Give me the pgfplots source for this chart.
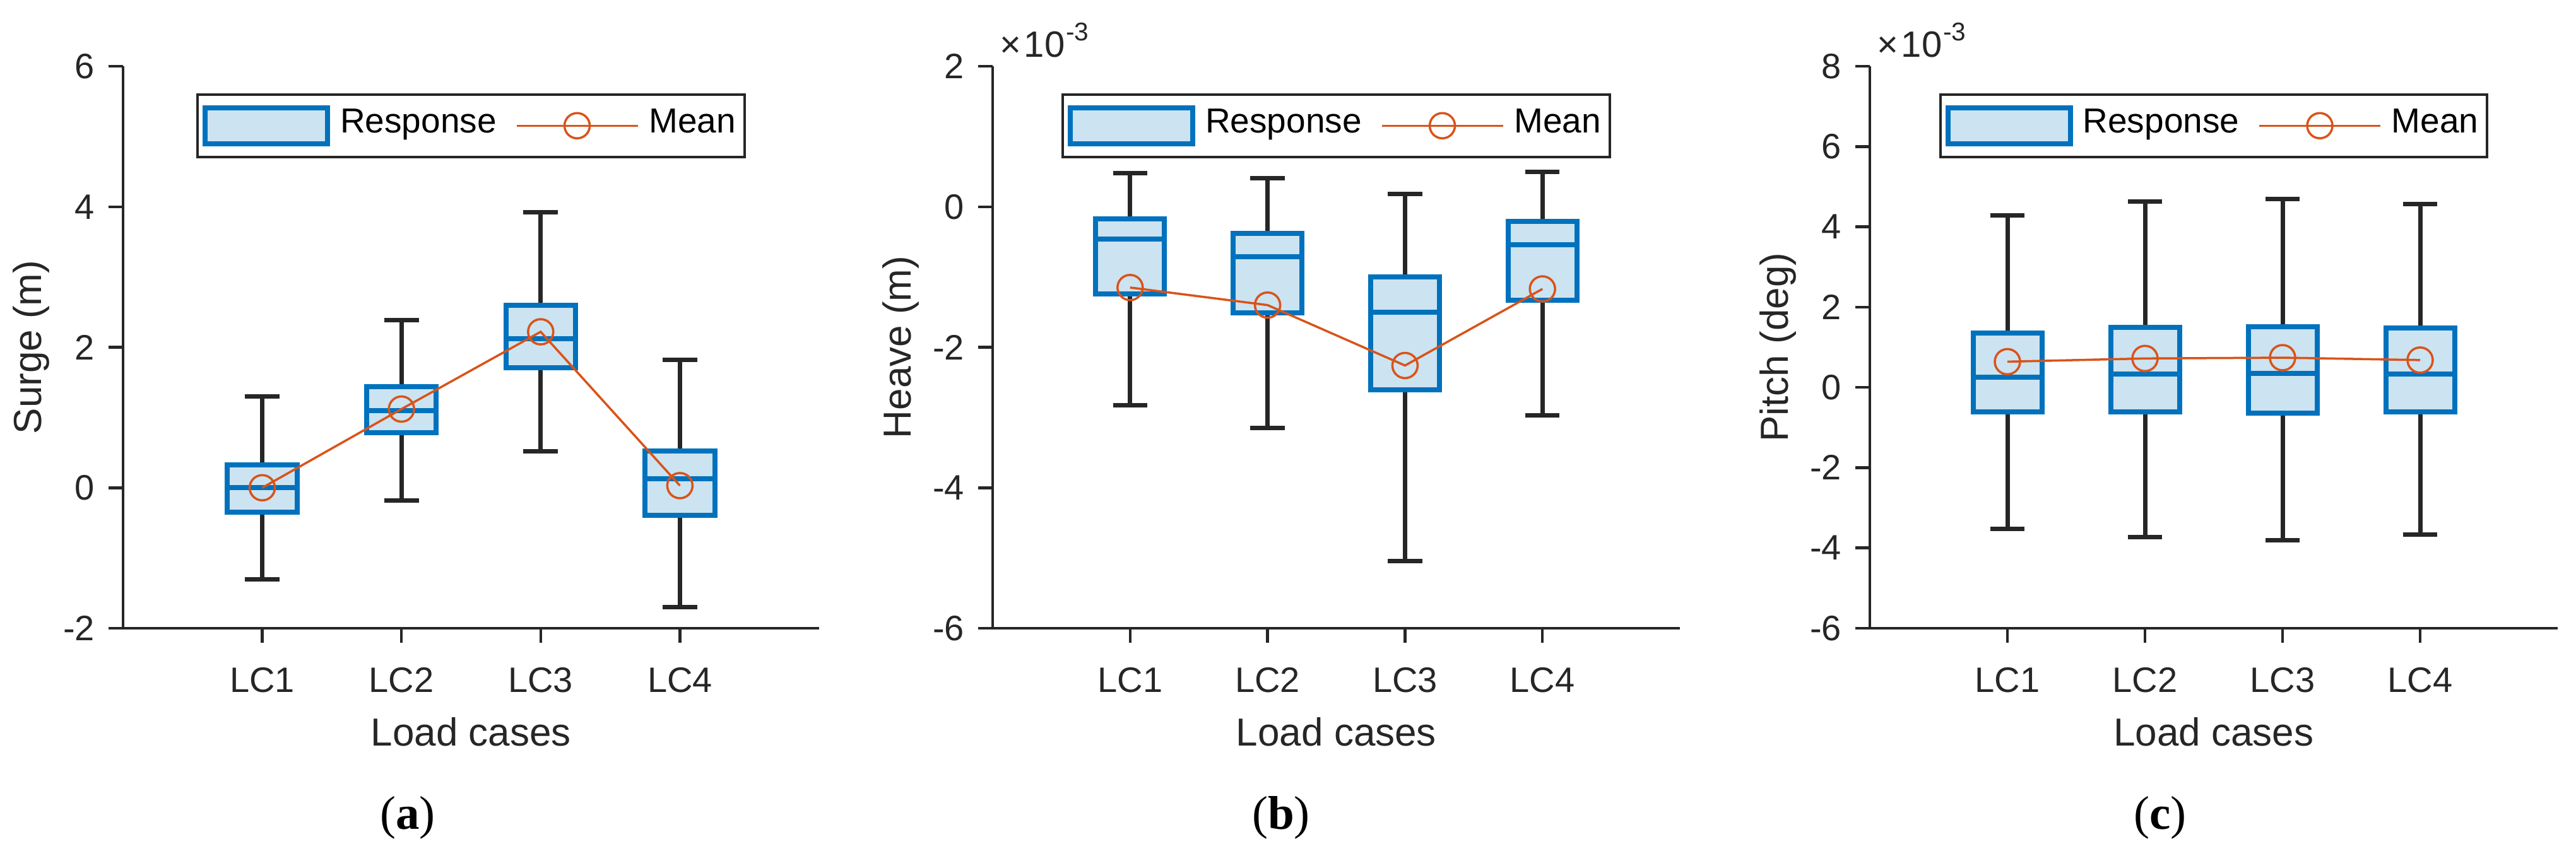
\documentclass[border=0pt]{standalone}
\usepackage{fontspec}
\setmainfont{Liberation Sans}
\newfontfamily\capfont{Liberation Serif}
\usepackage{pgfplots}
\pgfplotsset{compat=1.18}
\usepgfplotslibrary{statistics}

\definecolor{mblue}{RGB}{0,114,189}
\definecolor{mfill}{RGB}{204,227,241}
\definecolor{morange}{RGB}{217,83,25}
\definecolor{axgray}{RGB}{38,38,38}

% one box: position, lower whisker, lower quartile, median, upper quartile, upper whisker
\newcommand{\bx}[6]{\addplot[forget plot, boxplot/draw direction=y, boxplot prepared={draw position=#1,
  lower whisker=#2, lower quartile=#3, median=#4, upper quartile=#5, upper whisker=#6}]
  coordinates {};}

\pgfplotsset{
  panel/.style={
    scale only axis, height=89.1bp, clip=false,
    xmin=0, xmax=5, xtick={1,2,3,4}, xticklabels={LC1,LC2,LC3,LC4},
    axis x line*=bottom, axis y line*=left,
    axis line style={-, axgray, line width=0.45bp},
    tick style={axgray, line width=0.45bp},
    tick align=outside, major tick length=2.3bp,
    tick label style={font=\fontsize{5.6bp}{6.5bp}\selectfont, text=axgray},
    /pgf/number format/assume math mode=true,
    xticklabel style={anchor=center, yshift=-5.9bp},
    yticklabel style={anchor=east, xshift=1.3bp},
    label style={font=\fontsize{6.2bp}{7bp}\selectfont, text=axgray},
    xlabel={Load cases},
    xlabel style={at={(axis description cs:0.5,0)}, anchor=center, yshift=-16.4bp},
    ylabel style={at={(axis description cs:0,0.5)}, anchor=center, yshift=14.6bp},
    boxplot/draw direction=y,
    boxplot/box extend=0.5, boxplot/whisker extend=0.25,
    boxplot/every box/.style={draw=mblue, fill=mfill, line width=0.8bp},
    boxplot/every median/.style={draw=mblue, line width=0.8bp},
    boxplot/every whisker/.style={draw=axgray, line width=0.7bp},
    legend columns=2,
    legend style={at={(0.5,0.952)}, anchor=north, draw=axgray, line width=0.4bp,
      fill=white, text=black, font=\fontsize{5.5bp}{6bp}\selectfont,
      inner xsep=0.8bp, inner ysep=1.7bp, column sep=0pt,
      nodes={inner sep=0.6bp},
      /tikz/every odd column/.append style={column sep=1bp},
      /tikz/every even column/.append style={column sep=2.4bp}},
  },
  meanline/.style={forget plot, morange, line width=0.35bp, mark=o, mark size=2bp,
    mark options={line width=0.35bp}},
}

\newcommand{\legendpair}{%
  \addlegendimage{legend image code/.code={\draw[draw=mblue, fill=mfill, line width=0.8bp]
    (0bp,-2.85bp) rectangle (19.4bp,2.85bp);}}
  \addlegendentry{Response}
  \addlegendimage{legend image code/.code={\draw[morange, line width=0.35bp]
    (0bp,0bp) -- (19.2bp,0bp); \draw[morange, line width=0.35bp] (9.6bp,0bp) circle (2bp);}}
  \addlegendentry{Mean}
}

\newcommand{\expo}{%
  \node[anchor=base west, font=\fontsize{5.8bp}{6.5bp}\selectfont, text=axgray,
    inner sep=0pt] at (rel axis cs:0,1) [xshift=0.9bp, yshift=1.5bp]
    {×\kern0.5bp 10\textsuperscript{\kern0.2bp-3}};}

\begin{document}
\begin{tikzpicture}
\useasboundingbox (0,0) rectangle (408.2bp,134.6bp);

% (a) surge
\begin{axis}[panel, at={(19.5bp,35bp)}, anchor=south west, width=110.3bp,
  ymin=-2, ymax=6, ytick={-2,0,2,4,6}, ylabel={Surge (m)}]
  \bx{1}{-1.30}{-0.35}{0.00}{0.33}{1.30}
  \bx{2}{-0.18}{0.78}{1.10}{1.44}{2.39}
  \bx{3}{0.52}{1.71}{2.12}{2.60}{3.92}
  \bx{4}{-1.70}{-0.39}{0.13}{0.52}{1.82}
  \addplot[meanline] coordinates {(1,0.00) (2,1.12) (3,2.22) (4,0.03)};
  \legendpair
\end{axis}

% (b) heave, values in 1e-3 m
\begin{axis}[panel, at={(157.3bp,35bp)}, anchor=south west, width=108.9bp,
  ymin=-6, ymax=2, ytick={-6,-4,-2,0,2}, ylabel={Heave (m)}]
  \bx{1}{-2.83}{-1.24}{-0.46}{-0.17}{0.48}
  \bx{2}{-3.15}{-1.51}{-0.71}{-0.38}{0.41}
  \bx{3}{-5.04}{-2.61}{-1.50}{-1.00}{0.18}
  \bx{4}{-2.97}{-1.33}{-0.54}{-0.21}{0.50}
  \addplot[meanline] coordinates {(1,-1.15) (2,-1.40) (3,-2.26) (4,-1.17)};
  \legendpair
  \expo
\end{axis}

% (c) pitch, values in 1e-3 deg
\begin{axis}[panel, at={(296.3bp,35bp)}, anchor=south west, width=109bp,
  ymin=-6, ymax=8, ytick={-6,-4,-2,0,2,4,6,8}, ylabel={Pitch (deg)}]
  \bx{1}{-3.52}{-0.61}{0.25}{1.35}{4.28}
  \bx{2}{-3.73}{-0.61}{0.33}{1.49}{4.63}
  \bx{3}{-3.81}{-0.64}{0.35}{1.51}{4.70}
  \bx{4}{-3.67}{-0.61}{0.33}{1.48}{4.57}
  \addplot[meanline] coordinates {(1,0.64) (2,0.72) (3,0.74) (4,0.68)};
  \legendpair
  \expo
\end{axis}

\node[font=\capfont\fontsize{7.5bp}{8bp}\selectfont] at (64.6bp,5bp) {(\textbf{a})};
\node[font=\capfont\fontsize{7.5bp}{8bp}\selectfont] at (203bp,5bp) {(\textbf{b})};
\node[font=\capfont\fontsize{7.5bp}{8bp}\selectfont] at (342.3bp,5bp) {(\textbf{c})};
\end{tikzpicture}
\end{document}
